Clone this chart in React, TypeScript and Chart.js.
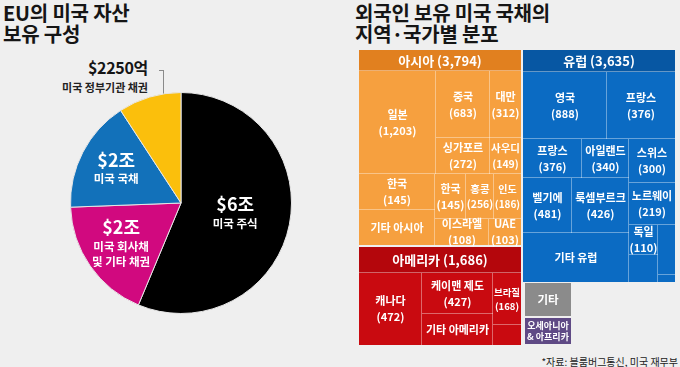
import React, { useEffect, useRef } from 'react';
import { Chart, registerables } from 'chart.js';
Chart.register(...registerables);

// ---------- Pie data ----------
const pieAmounts = ['$6조', '$2조', '$2조', '$2250억'];
const pieNames = ['미국 주식', '미국 회사채\n및 기타 채권', '미국 국채', '미국 정부기관 채권'];
const pieShares = [56.3, 18.1, 16.4, 9.2]; // slice shares as drawn (%)
const pieColors = ['#000000', '#d1097f', '#1271ba', '#fbbf0c'];
const pieLabelRadius = [0.5, 0.66, 0.66, 0];

// ---------- Treemap data ----------
const regionKeys = ['asia', 'am', 'eu', 'other', 'oce'];
const regionNames = ['아시아', '아메리카', '유럽', '기타', '오세아니아\n& 아프리카'];
const regionTotals: (number | null)[] = [3794, 1686, 3635, null, null];
const regionHeadColors = ['#e1801f', '#b4060c', '#0757a3', '#8b8b8b', '#5f4a85'];
const regionCellColors = ['#f6a03f', '#c90a10', '#0b6bc3', '#8b8b8b', '#5f4a85'];

const asiaNames = ['일본', '중국', '대만', '싱가포르', '사우디', '한국', '기타 아시아', '한국', '홍콩', '인도', '이스라엘', 'UAE'];
const asiaValues: (number | null)[] = [1203, 683, 312, 272, 149, 145, null, 145, 256, 186, 108, 103];
const americaNames = ['캐나다', '케이맨 제도', '기타 아메리카', '브라질', ''];
const americaValues: (number | null)[] = [472, 427, null, 168, null];
const europeNames = ['영국', '프랑스', '프랑스', '아일랜드', '벨기에', '룩셈부르크', '기타 유럽', '스위스', '노르웨이', '독일', '', '', ''];
const europeValues: (number | null)[] = [888, 376, 376, 340, 481, 426, null, 300, 219, 110, null, null, null];

const cellNames: Record<string, string[]> = { asia: asiaNames, am: americaNames, eu: europeNames, other: [], oce: [] };
const cellValues: Record<string, (number | null)[]> = { asia: asiaValues, am: americaValues, eu: europeValues, other: [], oce: [] };

// ---------- Treemap layout tree (relative shares, as drawn) ----------
type Node = { w: number; dir?: 'h' | 'v'; kids?: Node[]; g?: string; i?: number; head?: boolean };
const N = (w: number, dir: 'h' | 'v', kids: Node[]): Node => ({ w, dir, kids });
const C = (w: number, g: string, i: number): Node => ({ w, g, i });
const HD = (w: number, g: string): Node => ({ w, g, head: true });
const GAP = (w: number): Node => ({ w });

const treeLayout: Node = N(1, 'h', [
  N(162, 'v', [
    N(195, 'v', [
      HD(21, 'asia'),
      N(174, 'v', [
        N(103, 'h', [
          C(77, 'asia', 0),
          N(54, 'v', [C(67, 'asia', 1), C(36, 'asia', 3)]),
          N(31, 'v', [C(67, 'asia', 2), C(36, 'asia', 4)]),
        ]),
        N(71, 'h', [
          N(76, 'v', [C(36, 'asia', 5), C(35, 'asia', 6)]),
          N(86, 'v', [
            N(45, 'h', [C(31, 'asia', 7), C(28, 'asia', 8), C(27, 'asia', 9)]),
            N(26, 'h', [C(54, 'asia', 10), C(32, 'asia', 11)]),
          ]),
        ]),
      ]),
    ]),
    GAP(2),
    N(98, 'v', [
      HD(26, 'am'),
      N(72, 'h', [
        C(63, 'am', 0),
        N(71, 'v', [C(41, 'am', 1), C(31, 'am', 2)]),
        N(28, 'v', [C(52, 'am', 3), C(20, 'am', 4)]),
      ]),
    ]),
  ]),
  GAP(2),
  N(152, 'v', [
    N(232, 'v', [
      HD(22, 'eu'),
      N(210, 'v', [
        N(67, 'h', [C(83, 'eu', 0), C(68, 'eu', 1)]),
        N(143, 'h', [
          N(105, 'v', [
            N(39, 'h', [C(59, 'eu', 2), C(46, 'eu', 3)]),
            N(55, 'h', [C(49, 'eu', 4), C(56, 'eu', 5)]),
            C(49, 'eu', 6),
          ]),
          N(46, 'v', [
            C(44, 'eu', 7),
            C(42, 'eu', 8),
            N(57, 'h', [
              N(29, 'v', [C(30, 'eu', 9), C(27, 'eu', 10)]),
              N(17, 'v', [C(50, 'eu', 11), C(7, 'eu', 12)]),
            ]),
          ]),
        ]),
      ]),
    ]),
    GAP(1),
    N(62, 'h', [
      GAP(2),
      N(46, 'v', [HD(33, 'other'), GAP(2), HD(26, 'oce'), GAP(1)]),
      GAP(104),
    ]),
  ]),
]);

type Rect = { x0: number; y0: number; x1: number; y1: number; g: string; i?: number; head?: boolean };
function layoutTree(n: Node, x0: number, y0: number, x1: number, y1: number, out: Rect[]) {
  if (n.kids) {
    const total = n.kids.reduce((s, k) => s + k.w, 0);
    let acc = 0;
    for (const k of n.kids) {
      const a = acc / total;
      const b = (acc + k.w) / total;
      if (n.dir === 'h') layoutTree(k, x0 + (x1 - x0) * a, y0, x0 + (x1 - x0) * b, y1, out);
      else layoutTree(k, x0, y0 + (y1 - y0) * a, x1, y0 + (y1 - y0) * b, out);
      acc += k.w;
    }
  } else if (n.g) {
    out.push({ x0, y0, x1, y1, g: n.g, i: n.i, head: n.head });
  }
}

const FONT = '"Noto Sans CJK KR", "Noto Sans", sans-serif';
const fmt = (v: number) => v.toLocaleString('en-US');

function drawLines(ctx: CanvasRenderingContext2D, lines: string[], cx: number, cy: number, maxW: number, size: number, lh: number) {
  let s = size;
  ctx.font = `bold ${s}px ${FONT}`;
  while (s > 7 && Math.max(...lines.map((l) => ctx.measureText(l).width)) > maxW) {
    s -= 0.5;
    ctx.font = `bold ${s}px ${FONT}`;
  }
  const h = lh * (s / size);
  const start = cy - ((lines.length - 1) * h) / 2;
  lines.forEach((l, k) => ctx.fillText(l, cx, start + k * h));
}

const treemapPlugin = {
  id: 'treemapCells',
  afterDraw(chart: any) {
    const { ctx, scales } = chart;
    const xs = scales.x;
    const ys = scales.y;
    const rects: Rect[] = [];
    layoutTree(treeLayout, 0, 0, 1, 1, rects);
    const px = rects.map((r) => ({
      ...r,
      X0: Math.round(xs.getPixelForValue(r.x0)),
      X1: Math.round(xs.getPixelForValue(r.x1)),
      Y0: Math.round(ys.getPixelForValue(r.y0)),
      Y1: Math.round(ys.getPixelForValue(r.y1)),
    }));
    const bbox: Record<string, { x1: number; y1: number }> = {};
    px.forEach((r) => {
      const b = bbox[r.g] || { x1: -1e9, y1: -1e9 };
      b.x1 = Math.max(b.x1, r.X1);
      b.y1 = Math.max(b.y1, r.Y1);
      bbox[r.g] = b;
    });
    ctx.save();
    px.forEach((r) => {
      const ri = regionKeys.indexOf(r.g);
      ctx.fillStyle = r.head ? regionHeadColors[ri] : regionCellColors[ri];
      ctx.fillRect(r.X0, r.Y0, r.X1 - r.X0, r.Y1 - r.Y0);
    });
    ctx.fillStyle = 'rgba(255,255,255,0.38)';
    px.forEach((r) => {
      const b = bbox[r.g];
      if (r.X1 < b.x1 - 0.5) ctx.fillRect(r.X1 - 1, r.Y0, 1, r.Y1 - r.Y0);
      if (r.Y1 < b.y1 - 0.5) ctx.fillRect(r.X0, r.Y1 - 1, r.X1 - r.X0, 1);
    });
    ctx.fillStyle = '#ffffff';
    ctx.textAlign = 'center';
    ctx.textBaseline = 'middle';
    px.forEach((r) => {
      const ri = regionKeys.indexOf(r.g);
      const cx = (r.X0 + r.X1) / 2;
      const cy = (r.Y0 + r.Y1) / 2;
      const w = r.X1 - r.X0 - 1;
      if (r.head) {
        const total = regionTotals[ri];
        const name = regionNames[ri];
        if (total != null) {
          drawLines(ctx, [`${name} (${fmt(total)})`], cx, cy + 0.5, w, 13, 15);
        } else {
          drawLines(ctx, name.split('\n'), cx, cy, w - 2, 11.5, 14);
        }
      } else if (r.i != null) {
        const name = cellNames[r.g][r.i];
        const v = cellValues[r.g][r.i];
        if (!name) return;
        const lines = [name];
        if (v != null) lines.push(`(${fmt(v)})`);
        drawLines(ctx, lines, cx, cy, w, 11, 16);
      }
    });
    ctx.restore();
  },
};

const pieLabelPlugin = {
  id: 'pieLabels',
  afterDatasetsDraw(chart: any) {
    const { ctx } = chart;
    const meta = chart.getDatasetMeta(0);
    ctx.save();
    ctx.fillStyle = '#ffffff';
    ctx.textAlign = 'center';
    ctx.textBaseline = 'middle';
    meta.data.forEach((arc: any, i: number) => {
      const f = pieLabelRadius[i];
      if (!f) return;
      const p = arc.getProps(['x', 'y', 'startAngle', 'endAngle', 'outerRadius'], true);
      const mid = (p.startAngle + p.endAngle) / 2;
      const cx = p.x + Math.cos(mid) * p.outerRadius * f;
      const cy = p.y + Math.sin(mid) * p.outerRadius * f;
      const names = pieNames[i].split('\n');
      const amountH = 19;
      const lineH = 15;
      const blockH = amountH + (names.length - 1) * lineH;
      let y = cy - blockH / 2;
      ctx.font = `bold 18px ${FONT}`;
      ctx.fillText(pieAmounts[i], cx, y);
      y += amountH;
      ctx.font = `bold 11.5px ${FONT}`;
      names.forEach((n) => {
        ctx.fillText(n, cx, y);
        y += lineH;
      });
    });
    ctx.restore();
  },
};

function PieChart() {
  const ref = useRef<HTMLCanvasElement>(null);
  useEffect(() => {
    const chart = new Chart(ref.current!, {
      type: 'pie',
      data: {
        labels: pieNames.map((n) => n.replace('\n', ' ')),
        datasets: [
          {
            data: pieShares,
            backgroundColor: pieColors,
            borderColor: '#e6e6e6',
            borderWidth: 1,
          },
        ],
      },
      options: {
        responsive: false,
        animation: false,
        devicePixelRatio: 1,
        layout: { padding: 0 },
        plugins: { legend: { display: false }, tooltip: { enabled: false } },
      },
      plugins: [pieLabelPlugin],
    });
    return () => chart.destroy();
  }, []);
  return <canvas ref={ref} width={222} height={222} style={{ position: 'absolute', left: 70, top: 92, width: 222, height: 222 }} />;
}

function Treemap() {
  const ref = useRef<HTMLCanvasElement>(null);
  useEffect(() => {
    const chart = new Chart(ref.current!, {
      type: 'scatter',
      data: { datasets: [{ data: [], pointRadius: 0 }] },
      options: {
        responsive: false,
        animation: false,
        devicePixelRatio: 1,
        layout: { padding: 0 },
        scales: {
          x: { type: 'linear', min: 0, max: 1, display: false },
          y: { type: 'linear', min: 0, max: 1, reverse: true, display: false },
        },
        plugins: { legend: { display: false }, tooltip: { enabled: false } },
      },
      plugins: [treemapPlugin],
    });
    return () => chart.destroy();
  }, []);
  return <canvas ref={ref} width={316} height={295} style={{ position: 'absolute', left: 359, top: 50, width: 316, height: 295 }} />;
}

export default function App() {
  const title: React.CSSProperties = {
    position: 'absolute',
    top: 2,
    font: `bold 20px/21px ${FONT}`,
    color: '#151515',
    letterSpacing: '-0.2px',
    whiteSpace: 'nowrap',
  };
  return (
    <div style={{ position: 'fixed', left: 0, top: 0, width: 680, height: 367, background: '#efefef', overflow: 'hidden', fontFamily: FONT }}>
      <div style={{ ...title, left: 3 }}>
        EU의 미국 자산
        <br />
        보유 구성
      </div>
      <div style={{ ...title, left: 355 }}>
        외국인 보유 미국 국채의
        <br />
        지역·국가별 분포
      </div>
      <div style={{ position: 'absolute', right: 532, top: 59, font: `bold 16px/16px ${FONT}`, color: '#151515', letterSpacing: '-0.3px' }}>
        {pieAmounts[3]}
      </div>
      <div style={{ position: 'absolute', right: 532, top: 81, font: `bold 11px/13px ${FONT}`, color: '#222', whiteSpace: 'nowrap' }}>
        {pieNames[3]}
      </div>
      <div style={{ position: 'absolute', left: 159, top: 70, width: 5, height: 1, background: '#8a8a8a' }} />
      <div style={{ position: 'absolute', left: 163, top: 70, width: 1, height: 27, background: '#8a8a8a' }} />
      <PieChart />
      <Treemap />
      <div style={{ position: 'absolute', right: 2, top: 356, font: `10px/12px ${FONT}`, color: '#222', whiteSpace: 'nowrap' }}>
        *자료: 블룸버그통신, 미국 재무부
      </div>
    </div>
  );
}
